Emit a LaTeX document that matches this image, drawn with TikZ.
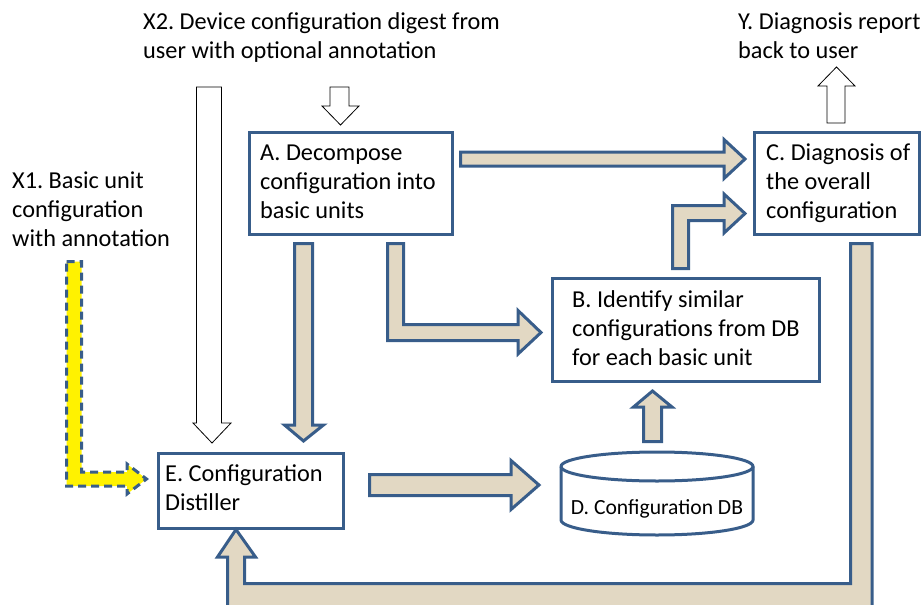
\documentclass[tikz,border=0pt]{standalone}
\usepackage{fontspec}
\setmainfont{Carlito}
\frenchspacing
\definecolor{bblue}{HTML}{385D8A}
\definecolor{tan}{HTML}{E2D8C3}
\newcommand{\lines}[1]{\parbox[t]{420pt}{\raggedright #1}}
\begin{document}
\begin{tikzpicture}[x=1pt,y=-1pt,
  box/.style={draw=bblue, line width=3pt, fill=white},
  blk/.style={draw=bblue, line width=3pt, fill=tan, line join=miter},
  wht/.style={draw=black, line width=0.8pt, fill=white, line join=miter},
  ylw/.style={draw=bblue, line width=3pt, fill=yellow, dash pattern=on 8pt off 5pt},
  lbl/.style={inner sep=0pt, anchor=base west, font=\fontsize{24.3}{29.3}\selectfont},
]
\useasboundingbox (0,0) rectangle (921,605);
\clip (0,0) rectangle (921,605);

% boxes
\node[box, anchor=north west, minimum width=203pt, minimum height=102pt] (A) at (248,131) {};
\node[box, anchor=north west, minimum width=165pt, minimum height=102pt] (C) at (753,131) {};
\node[box, anchor=north west, minimum width=267pt, minimum height=103pt] (B) at (551,277) {};
\node[box, anchor=north west, minimum width=185pt, minimum height=75pt] (E) at (157,452) {};

% database cylinder
\draw[box] (561,466.5) -- (561,520) arc[start angle=180, end angle=0, x radius=96, y radius=15]
  -- (753,466.5) arc[start angle=0, end angle=-180, x radius=96, y radius=14.5] -- cycle;
\draw[bblue, line width=3pt] (561,466.5) arc[start angle=180, end angle=0, x radius=96, y radius=14.5];

% labels
\node[lbl] (tA) at (260,160) {\lines{A. Decompose\\configuration into\\basic units}};
\node[lbl] (tC) at (766,160) {\lines{C. Diagnosis of\\the overall\\configuration}};
\node[lbl] (tB) at (572,307) {\lines{B. Identify similar\\configurations from DB\\for each basic unit}};
\node[lbl] (tE) at (165,481) {\lines{E. Configuration\\Distiller}};
\node[inner sep=0pt, anchor=base, font=\fontsize{21.6}{26}\selectfont] (D) at (657,514) {D. Configuration DB};
\node[lbl] (x2) at (143,29) {\lines{X2. Device configuration digest from\\user with optional annotation}};
\node[lbl] (y) at (738,29) {\lines{Y. Diagnosis report\\back to user}};
\node[lbl] (x1) at (12,188) {\lines{X1. Basic unit\\configuration\\with annotation}};

% block arrows
\draw[blk] (460.5,152)--(724,152)--(724,139.5)--(745,159)--(724,178.5)--(724,166)--(460.5,166)--cycle;
\draw[blk] (672.5,268.5)--(672.5,205.5)--(724,205.5)--(724,194)--(745,213.5)--(724,233)--(724,220.5)--(688.5,220.5)--(688.5,268.5)--cycle;
\draw[blk] (294.5,243.5)--(312.5,243.5)--(312.5,425)--(323.5,425)--(303.5,441)--(284.5,425)--(294.5,425)--cycle;
\draw[blk] (387.5,243.5)--(403.5,243.5)--(403.5,324.5)--(518,324.5)--(518,310.5)--(541,332.5)--(518,354)--(518,340.5)--(387.5,340.5)--cycle;
\draw[blk] (369.5,474.5)--(511,474.5)--(511,460.5)--(539,485)--(511,509.5)--(511,495.5)--(369.5,495.5)--cycle;
\draw[blk] (643.5,441.5)--(643.5,407)--(633.5,407)--(652.5,391)--(672,407)--(661.5,407)--(661.5,441.5)--cycle;
\draw[blk] (850.5,243.5)--(872,243.5)--(872,610)--(227.5,610)--(227.5,557)--(217.5,557)--(236,529.5)--(255.5,557)--(244.5,557)--(244.5,583.5)--(850.5,583.5)--cycle;

% input / output arrows
\draw[ylw] (66.5,261.5)--(81.5,261.5)--(81.5,472)--(127,472)--(127,464)--(146.5,479)--(127,494)--(127,486)--(66.5,486)--cycle;
\draw[wht] (196.5,87)--(221.5,87)--(221.5,423)--(231,423)--(212,443)--(193,423)--(196.5,423)--cycle;
\draw[wht] (330,87)--(349,87)--(349,106)--(359,106)--(340.5,125)--(322,106)--(330,106)--cycle;
\draw[wht] (827,123)--(827,86)--(818,86)--(836.5,67)--(855,86)--(845,86)--(845,123)--cycle;
\end{tikzpicture}
\end{document}
